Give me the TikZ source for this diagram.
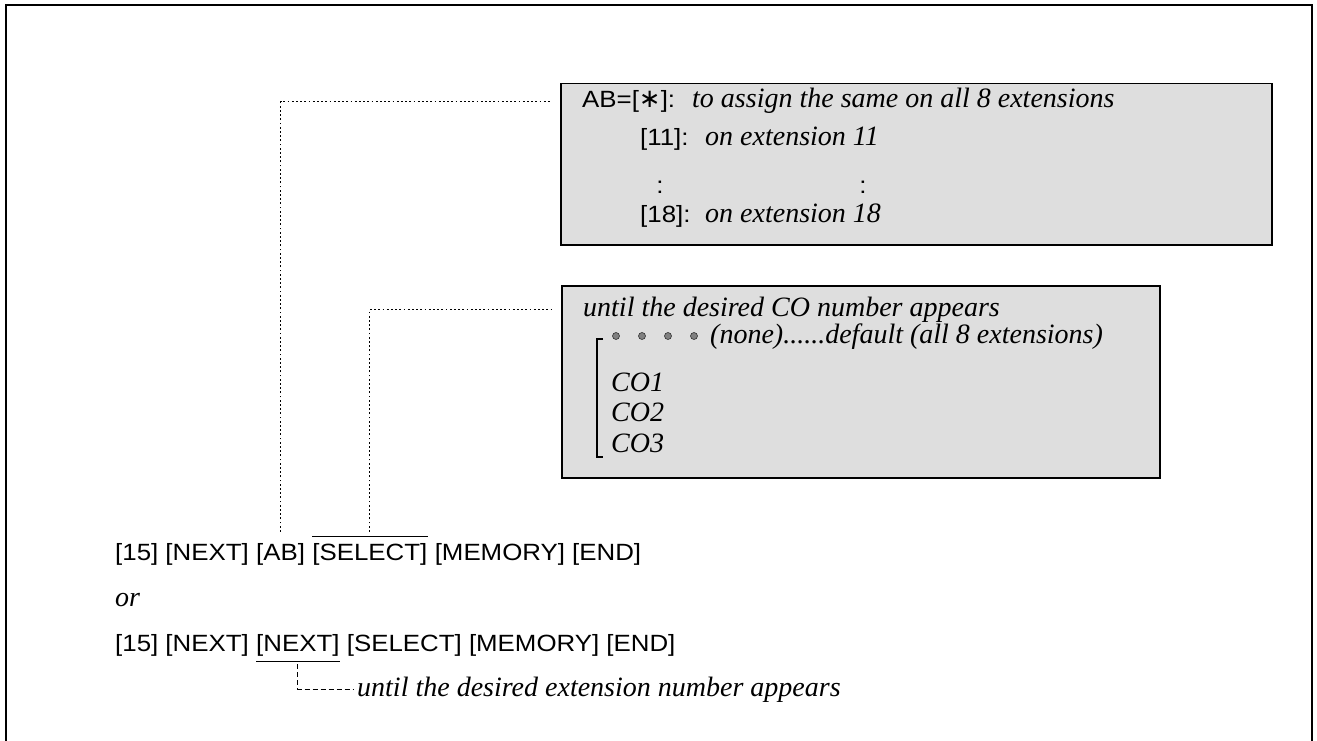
\documentclass[tikz,border=0pt]{standalone}
\usepackage{fontspec}
\setmainfont{Liberation Serif}
\newfontfamily\keyfont[FakeStretch=1.1]{Liberation Sans}
\newfontfamily\symfont{DejaVu Sans}
\usetikzlibrary{calc}
\begin{document}
\begin{tikzpicture}[x=1pt,y=-1pt,
  key/.style={font=\fontsize{23.5}{28}\selectfont\keyfont, inner sep=0pt, anchor=base west},
  ital/.style={font=\fontsize{28}{32}\selectfont\itshape, inner sep=0pt, anchor=base west},
  infobox/.style={draw=black, line width=1.5pt, fill=black!13, anchor=north west, inner sep=0pt},
  dotconn/.style={line width=1pt, dash pattern=on 1.8pt off 2.4pt},
  dashconn/.style={line width=0.9pt, dash pattern=on 5pt off 3pt},
  rulemark/.style={line width=1.1pt},
  dotmark/.style={circle, fill=black!50, draw=black!80, line width=0.6pt, minimum size=7pt, inner sep=0pt},
  framestyle/.style={line width=2pt}]
\useasboundingbox (0,0) rectangle (1317,741);
\draw[framestyle] (6,741) -- (6,5) -- (1312,5) -- (1312,741);

% boxes
\node[infobox, minimum width=711pt, minimum height=161pt] (box1) at (560,83) {};
\node[infobox, minimum width=598pt, minimum height=192pt] (box2) at (561,285) {};

% box 1 text
\node[key] (ab) at (582,108) {AB=[{\symfont\fontsize{26}{26}\selectfont ∗}]:};
\node[ital] (abt) at (692,108) {to assign the same on all 8 extensions};
\node[key] (e11) at (640,146) {[11]:};
\node[ital] (e11t) at (705,146) {on extension 11};
\node[key, anchor=base] (vd1) at (660,193) {:};
\node[key, anchor=base] (vd2) at (863,193) {:};
\node[key] (e18) at (640,222) {[18]:};
\node[ital] (e18t) at (705,222) {on extension 18};

% box 2 text
\node[ital] (until) at (583,316) {until the desired CO number appears};
\node[dotmark] (b1) at (616,336) {};
\node[dotmark] (b2) at (642,336) {};
\node[dotmark] (b3) at (668,336) {};
\node[dotmark] (b4) at (694,336) {};
\node[ital] (none) at (710,343) {(none)......default (all 8 extensions)};
\node[ital] (co1) at (611,391) {CO1};
\node[ital] (co2) at (611,421) {CO2};
\node[ital] (co3) at (611,452) {CO3};
\draw[line width=1.6pt] (603,339) -- (597,339) -- (597,457) -- (603,457);

% line 1
\node[key] (l1a) at (115,560) {[15] [NEXT]};
\node[key, xshift=7pt] (l1ab) at (l1a.base east) {[AB]};
\node[key, xshift=7pt] (l1sel) at (l1ab.base east) {[SELECT]};
\node[key, xshift=7pt] (l1b) at (l1sel.base east) {[MEMORY] [END]};
\draw[rulemark] ([yshift=6pt]l1sel.north west) -- ([yshift=6pt]l1sel.north east);

% or
\node[ital] (or) at (115,606) {or};

% line 2
\node[key] (l2a) at (115,651) {[15] [NEXT]};
\node[key, xshift=7pt] (l2nx) at (l2a.base east) {[NEXT]};
\node[key, xshift=7pt] (l2b) at (l2nx.base east) {[SELECT] [MEMORY] [END]};
\draw[rulemark] ([yshift=-5pt]l2nx.south west) -- ([yshift=-5pt]l2nx.south east);

\node[ital] (extt) at (357,696) {until the desired extension number appears};

% connectors
\draw[dotconn] ([yshift=11pt]l1ab.north) |- ($(box1.west |- ab.west)+(-10,0)$);
\draw[dotconn] ([yshift=11pt]l1sel.north) |- ($(box2.west |- until.west)+(-10,0)$);
\draw[dashconn] ([yshift=-8pt]l2nx.south) |- ($(extt.west)+(-4,0)$);
\end{tikzpicture}
\end{document}
